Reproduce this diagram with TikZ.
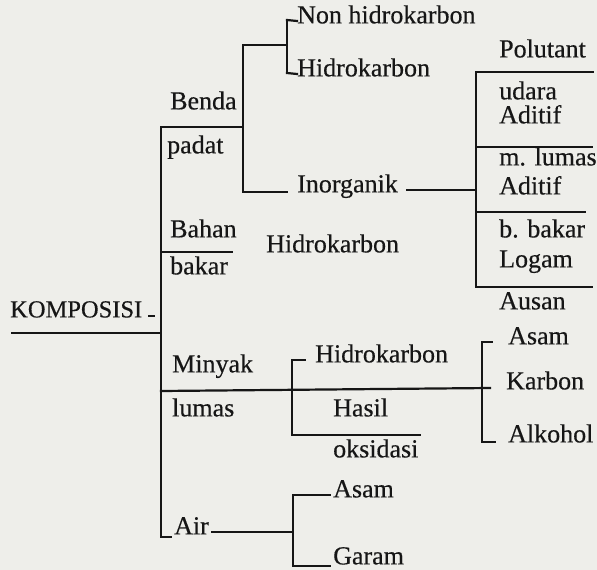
\documentclass[tikz,border=0pt]{standalone}
\usepackage{fontspec}
\setmainfont[FakeBold=0.4]{Liberation Serif}
\definecolor{bgc}{RGB}{238,238,234}
\definecolor{ink}{RGB}{22,22,22}
\begin{document}
\begin{tikzpicture}[x=1pt,y=-1pt]
\tikzset{
  ln/.style={draw=ink, line width=2.2pt, line cap=rect},
  lbl/.style={anchor=west, inner sep=0pt, text=ink, font=\fontsize{26}{30}\selectfont, text height=0.66em, text depth=0.18em}
}
\fill[bgc] (0,0) rectangle (597,570);
\useasboundingbox (0,0) rectangle (597,570);

% ---- text nodes ----
\node[lbl] (nonhk) at (297,21) {Non hidrokarbon};
\node[lbl] (hkA) at (297,74) {Hidrokarbon};
\node[lbl] (benda) at (170,107) {Benda};
\node[lbl] (padat) at (167,151) {padat};
\node[lbl] (inorg) at (297,190) {Inorganik};
\node[lbl] (bahan) at (170,235) {Bahan};
\node[lbl] (bakar) at (170,272) {bakar};
\node[lbl] (hkB) at (266,250) {Hidrokarbon};
\node[lbl, font=\fontsize{24.5}{28}\selectfont] (komp) at (10,315) {KOMPOSISI};
\node[lbl] (minyak) at (172,370) {Minyak};
\node[lbl] (lumas) at (172,414) {lumas};
\node[lbl] (hkC) at (315,360) {Hidrokarbon};
\node[lbl] (hasil) at (333,414) {Hasil};
\node[lbl] (oksid) at (333,455) {oksidasi};
\node[lbl] (asamA) at (508,342) {Asam};
\node[lbl] (karbon) at (506,387) {Karbon};
\node[lbl] (alkohol) at (508,440) {Alkohol};
\node[lbl] (air) at (174,532) {Air};
\node[lbl] (asamB) at (333,495) {Asam};
\node[lbl] (garam) at (333,562) {Garam};
\node[lbl] (polut) at (499,55) {Polutant};
\node[lbl] (udara) at (499,97) {udara};
\node[lbl] (aditA) at (499,121) {Aditif};
\node[lbl] (mlumas) at (499,163) {m. lumas};
\node[lbl] (aditB) at (499,192) {Aditif};
\node[lbl] (bbakar) at (499,235) {b. bakar};
\node[lbl] (logam) at (499,265) {Logam};
\node[lbl] (ausan) at (499,307) {Ausan};

% ---- junction coordinates ----
\coordinate (tTop) at (161,127);
\coordinate (tBot) at (161,537);
\coordinate (tHook) at (171,537);
\coordinate (bpJ) at (243,127);
\coordinate (bT) at (243,45);
\coordinate (bB) at (243,192);
\coordinate (hJ) at (287,45);
\coordinate (hT) at (287,20);
\coordinate (hB) at (287,73);
\coordinate (inL) at (287,192);
\coordinate (inR) at (407,190);
\coordinate (rJ) at (476,190);
\coordinate (rT) at (476,72);
\coordinate (r2) at (476,147);
\coordinate (r3) at (476,212);
\coordinate (rB) at (476,287);
\coordinate (e1) at (593,72);
\coordinate (e2) at (592,147);
\coordinate (e3) at (585,212);
\coordinate (e4) at (592,287);
\coordinate (tBB) at (161,252);
\coordinate (bbE) at (232,252);
\coordinate (kL) at (12,333);
\coordinate (tK) at (161,333);
\coordinate (dA) at (149,316);
\coordinate (dB) at (154,316);
\coordinate (tM) at (161,391);
\coordinate (mE) at (490,388);
\coordinate (mJ) at (292,390);
\coordinate (mT) at (292,360);
\coordinate (mTe) at (305,360);
\coordinate (mB) at (292,435);
\coordinate (mBe) at (420,435);
\coordinate (kJ) at (482,388);
\coordinate (kT) at (482,342);
\coordinate (kTe) at (492,342);
\coordinate (kB) at (482,442);
\coordinate (kBe) at (495,442);
\coordinate (airR) at (212,532);
\coordinate (aJ) at (293,532);
\coordinate (aT) at (293,495);
\coordinate (aTe) at (330,495);
\coordinate (aB) at (293,566);
\coordinate (aBe) at (330,566);

% ---- connectors ----
\draw[ln] (tTop) -- (tBot) -- (tHook);
\draw[ln] (tTop) -- (bpJ);
\draw[ln] (bT) -- (bB);
\draw[ln] (bT) -- (hJ);
\draw[ln] (hT) -- (hB);
\draw[ln] (hT) -- (nonhk.west);
\draw[ln] (hB) -- (hkA.west);
\draw[ln] (bB) -- (inL);
\draw[ln] (inR) -- (rJ);
\draw[ln] (rT) -- (rB);
\draw[ln] (rT) -- (e1);
\draw[ln] (r2) -- (e2);
\draw[ln] (r3) -- (e3);
\draw[ln] (rB) -- (e4);
\draw[ln] (tBB) -- (bbE);
\draw[ln] (kL) -- (tK);
\draw[ln] (dA) -- (dB);
\draw[ln] (tM) -- (mE);
\draw[ln] (mT) -- (mB);
\draw[ln] (mT) -- (mTe);
\draw[ln] (mB) -- (mBe);
\draw[ln] (kT) -- (kB);
\draw[ln] (kT) -- (kTe);
\draw[ln] (kB) -- (kBe);
\draw[ln] (airR) -- (aJ);
\draw[ln] (aT) -- (aB);
\draw[ln] (aT) -- (aTe);
\draw[ln] (aB) -- (aBe);
\end{tikzpicture}
\end{document}
